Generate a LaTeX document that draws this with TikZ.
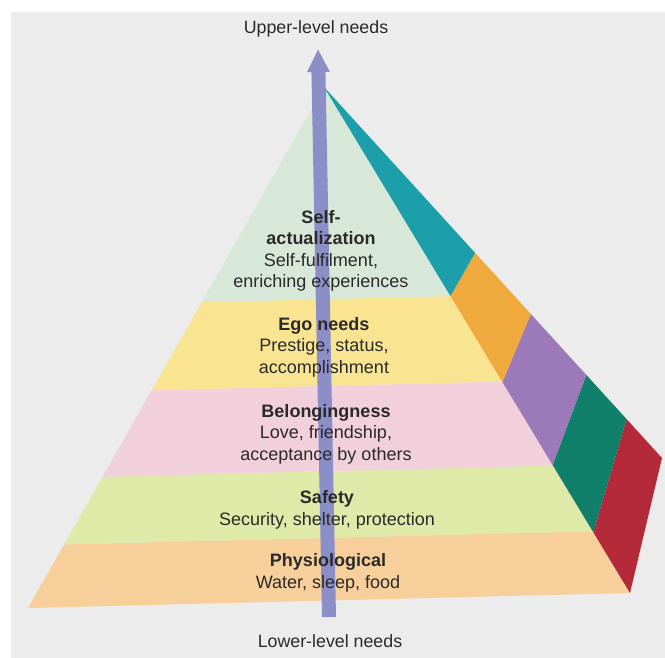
\documentclass[tikz,border=0pt]{standalone}
\usepackage{fontspec}
\setmainfont{Liberation Sans}
\usepackage{tikz}
\usetikzlibrary{arrows.meta,calc}
\definecolor{scan}{HTML}{ECECEC}
\definecolor{ink}{HTML}{2A2A2A}
\definecolor{shaft}{HTML}{8C8EC8}
\definecolor{physio}{HTML}{F7CF9A}
\definecolor{safety}{HTML}{DFE9A8}
\definecolor{belong}{HTML}{F1D0DB}
\definecolor{ego}{HTML}{F8E491}
\definecolor{selfact}{HTML}{D8E8D8}
\definecolor{sidered}{HTML}{B52A3A}
\definecolor{sidegreen}{HTML}{11806B}
\definecolor{sidepurple}{HTML}{9C79B9}
\definecolor{sideorange}{HTML}{F0A93C}
\definecolor{sideteal}{HTML}{1C9FAB}
\tikzset{%
    level/.style={align=center, text=ink, inner sep=0pt,
      font=\fontsize{18}{21.5}\selectfont},
    axislabel/.style={text=ink, inner sep=0pt,
      font=\fontsize{17.8}{20}\selectfont}
}
% front band: colour, lower and upper fraction towards the apex
\newcommand\FrontBand[3]{%
    \fill[#1] ($(fl)!#2!(apex)$) -- ($(fr)!#2!(apex)$)
      -- ($(fr)!#3!(apex)$) -- ($(fl)!#3!(apex)$) -- cycle
}
% side band: colour, front fractions, back fractions
\newcommand\SideBand[5]{%
    \fill[#1] ($(fr)!#2!(apex)$) -- ($(bk)!#4!(apex)$)
      -- ($(bk)!#5!(apex)$) -- ($(fr)!#3!(apex)$) -- cycle
}

\begin{document}
\begin{tikzpicture}[x=1pt,y=-1pt]
      \useasboundingbox (0,0) rectangle (665,658);
      \fill[scan] (11,12) rectangle (665,658);

      \coordinate (apex) at (324,87);
      \coordinate (fl) at (28,608);
      \coordinate (fr) at (630,593);
      \coordinate (bk) at (662,458);

      \FrontBand{physio}{0}{0.122};
      \FrontBand{safety}{0.122}{0.252};
      \FrontBand{belong}{0.252}{0.418};
      \FrontBand{ego}{0.418}{0.587};
      \FrontBand{selfact}{0.587}{1};

      \SideBand{sidered}{0}{0.12}{0}{0.105};
      \SideBand{sidegreen}{0.12}{0.253}{0.105}{0.224};
      \SideBand{sidepurple}{0.253}{0.417}{0.224}{0.388};
      \SideBand{sideorange}{0.417}{0.587}{0.388}{0.553};
      \SideBand{sideteal}{0.587}{1}{0.553}{1};

      \coordinate (foot) at (329,617);
      \coordinate (tip) at (318,49);
      \draw[shaft, line width=14pt, -{Triangle[length=23pt,width=21pt]}] (foot) -- (tip);

      \node[axislabel] (upper) at (316,29) {Upper-level needs};
      \node[axislabel] (lower) at (330,641) {Lower-level needs};

      \node[level] (selfactual) at (321,251) {\textbf{Self-}\\\textbf{actualization}\\Self-fulfilment,\\enriching experiences};
      \node[level] (egoneeds) at (324,347) {\textbf{Ego needs}\\Prestige, status,\\accomplishment};
      \node[level] (belonging) at (326,434) {\textbf{Belongingness}\\Love, friendship,\\acceptance by others};
      \node[level] (safe) at (327,510) {\textbf{Safety}\\Security, shelter, protection};
      \node[level] (physiol) at (328,573) {\textbf{Physiological}\\Water, sleep, food};
\end{tikzpicture}
\end{document}
